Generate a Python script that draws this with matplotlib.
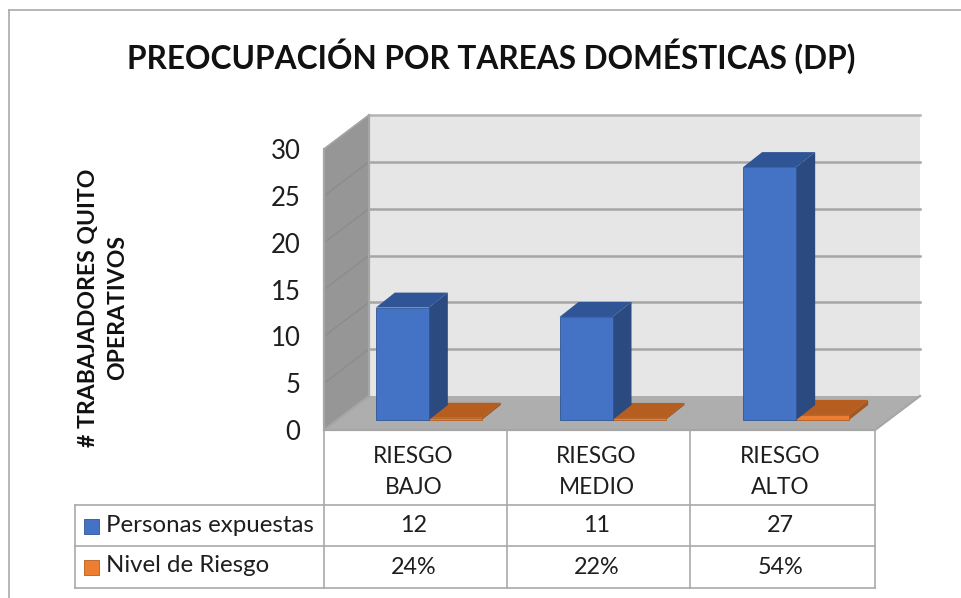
import matplotlib
matplotlib.use("Agg")
import matplotlib.pyplot as plt
from matplotlib.patches import Polygon, Rectangle
from matplotlib.lines import Line2D

plt.rcParams['font.family'] = ['Lato', 'DejaVu Sans']

title = "PREOCUPACIÓN POR TAREAS DOMÉSTICAS (DP)"
ylabel = "# TRABAJADORES QUITO\nOPERATIVOS"
categories = ["RIESGO\nBAJO", "RIESGO\nMEDIO", "RIESGO\nALTO"]
personas = [12, 11, 27]
nivel = [0.24, 0.22, 0.54]
nivel_labels = ["24%", "22%", "54%"]
series_names = ["Personas expuestas", "Nivel de Riesgo"]
yticks = [0, 5, 10, 15, 20, 25, 30]

W, H = 962, 598
X0, X1, Y0, Y1 = 324, 875, 430, 149
BLUE, BLUE_TOP, BLUE_SIDE = "#4472C4", "#2F5597", "#2A4A80"
ORANGE, ORANGE_TOP, ORANGE_SIDE = "#ED7D31", "#B55E20", "#A8561F"
GRID = "#A6A6A6"

fig = plt.figure(figsize=(W / 100, H / 100), dpi=100, facecolor="white")
ax = fig.add_axes([X0 / W, 1 - Y0 / H, (X1 - X0) / W, (Y0 - Y1) / H])
ax.set_xlim(0, 3)
ax.set_ylim(0, 30)
ax.patch.set_visible(False)
for s in ax.spines.values():
    s.set_visible(False)

UX = (X1 - X0) / 3
UY = (Y0 - Y1) / 30
DX, DY = 45 / UX, 34 / UY      # full depth of the box in data units


def poly(pts, color, z, ec=None, lw=0):
    ax.add_patch(Polygon(pts, closed=True, facecolor=color, edgecolor=ec or color,
                         linewidth=lw, clip_on=False, zorder=z))


# box: back wall, left wall, floor
poly([(DX, DY), (3 + DX, DY), (3 + DX, 30 + DY), (DX, 30 + DY)], "#E6E6E6", 1)
poly([(0, 0), (DX, DY), (DX, 30 + DY), (0, 30)], "#969696", 2)
poly([(0, 0), (3, 0), (3 + DX, DY), (DX, DY)], "#AEAEAE", 2)
for t in yticks[1:]:
    c = GRID if t < 30 else "#B4B4B4"
    ax.plot([DX, 3 + DX], [t + DY, t + DY], color=c, lw=1.8, clip_on=False, zorder=1.5)
    ax.plot([0, DX], [t, t + DY], color="#8A8A8A", lw=0.8, clip_on=False, zorder=2.5)
ax.plot([DX, DX], [DY, 30 + DY], color=GRID, lw=1.6, clip_on=False, zorder=2.5)
ax.plot([0, 0], [0, 30], color=GRID, lw=1.6, clip_on=False, zorder=2.5)
ax.plot([DX, 0, 3, 3 + DX], [DY, 0, 0, DY], color=GRID, lw=1.6, clip_on=False, zorder=2.6)
ax.plot([0, DX], [30, 30 + DY], color=GRID, lw=1.2, clip_on=False, zorder=2.6)

# bars with fake depth
w = 53 / UX
bx, by = 13 / UX, 10 / UY        # offset of bar front from front of floor
tx, ty = 19 / UX, 15 / UY        # depth of the bars


def bar3d(left, height, front, top, side, z):
    ax.bar(left + bx, height, width=w, bottom=by, align="edge", color=front,
           edgecolor=top, linewidth=0.6, clip_on=False, zorder=z + 0.2)
    l, r, b, u = left + bx, left + bx + w, by, by + height
    poly([(l, u), (r, u), (r + tx, u + ty), (l + tx, u + ty)], top, z)
    poly([(r, b), (r + tx, b + ty), (r + tx, u + ty), (r, u)], side, z + 0.1)


for i, (p, n) in enumerate(zip(personas, nivel)):
    bar3d(i + 0.5 - w, p, BLUE, BLUE_TOP, BLUE_SIDE, 6)
    bar3d(i + 0.5, n, ORANGE, ORANGE_TOP, ORANGE_SIDE, 5)

# axis ticks
ax.set_xticks([])
ax.set_yticks(yticks)
ax.tick_params(axis="y", length=0, pad=17, labelsize=18.5, labelcolor="#1E1E1E")


# figure-level data table
def fx(px):
    return px / W


def fy(py):
    return 1 - py / H


def hv(x0, y0, x1, y1):
    fig.add_artist(Line2D([fx(x0), fx(x1)], [fy(y0), fy(y1)], color="#A9A9A9", lw=1.2,
                          transform=fig.transFigure, zorder=3))


COLS = [X0, 507, 690, X1]
hv(X0, Y0, X0, 588)
hv(507, Y0, 507, 588)
hv(690, Y0, 690, 588)
hv(X1, Y0, X1, 588)
hv(75, 505, 75, 588)
for yy in (505, 546, 588):
    hv(75, yy, X1, yy)

# outer frame of the picture
hv(9, 10, W, 10)
hv(9, 10, 9, H)

for i, c in enumerate(categories):
    cx = (COLS[i] + COLS[i + 1]) / 2 - 2
    fig.text(fx(cx), fy(472), c, ha="center", va="center", fontsize=16.3,
             color="#1E1E1E", linespacing=1.55)
    fig.text(fx(cx), fy(526), str(personas[i]), ha="center", va="center",
             fontsize=16.8, color="#1E1E1E")
    fig.text(fx(cx), fy(567), nivel_labels[i], ha="center", va="center",
             fontsize=16.8, color="#1E1E1E")

for name, key, yc, edge in ((series_names[0], BLUE, 526, "#2F5597"),
                            (series_names[1], ORANGE, 567, "#B55E20")):
    fig.add_artist(Rectangle((fx(84), fy(yc + 7.5)), 15 / W, 15 / H, facecolor=key,
                             edgecolor=edge, lw=0.6, transform=fig.transFigure))
    fig.text(fx(106), fy(yc - 1), name, ha="left", va="center", fontsize=17.3,
             color="#1E1E1E")

fig.text(fx(491), fy(56), title, ha="center", va="center", fontsize=22.8,
         fontweight="bold", color="#111111")
fig.text(fx(103), fy(308), ylabel, ha="center", va="center", rotation=90,
         fontsize=16.6, fontweight="bold", color="#111111", linespacing=1.5)

fig.savefig("out.png", dpi=100, facecolor="white")
